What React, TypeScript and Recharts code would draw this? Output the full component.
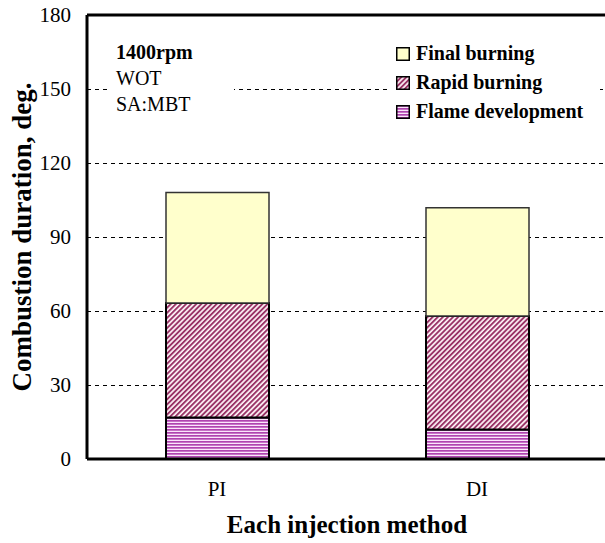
import React from 'react';
import {
  Bar,
  BarChart,
  CartesianGrid,
  Legend,
  ReferenceLine,
  XAxis,
  YAxis,
} from 'recharts';

const methods = ['PI', 'DI'];
const flameDevelopment = [16.8, 12.0];
const rapidBurning = [46.4, 46.0];
const finalBurning = [44.8, 43.9];
const yTicks = [0, 30, 60, 90, 120, 150, 180];
const conditions = ['1400rpm', 'WOT', 'SA:MBT'];

const SERIF = "'Liberation Serif', 'DejaVu Serif', 'Times New Roman', serif";

const data = methods.map((m, i) => ({
  method: m,
  flame: flameDevelopment[i],
  rapid: rapidBurning[i],
  final: finalBurning[i],
}));

const SWATCH: Record<string, string> = {
  final: '#ffffcc',
  rapid: 'url(#rapidHatch)',
  flame: 'url(#flameStripes)',
};
const LEGEND_ORDER = ['final', 'rapid', 'flame'];

function LegendBox({ payload }: { payload?: any[] }) {
  const items = [...(payload ?? [])].sort(
    (a, b) => LEGEND_ORDER.indexOf(String(a.dataKey)) - LEGEND_ORDER.indexOf(String(b.dataKey))
  );
  return (
    <div style={{ background: '#fff', padding: '3px 0 3px 8px', fontFamily: SERIF }}>
      {items.map((p) => (
        <div
          key={String(p.dataKey)}
          style={{ display: 'flex', alignItems: 'center', height: 29, fontSize: 20, fontWeight: 700 }}
        >
          <svg width={14} height={14} style={{ marginRight: 6 }}>
            <rect x={0.75} y={0.75} width={12.5} height={12.5} fill={SWATCH[p.dataKey]} stroke="#000" strokeWidth={1.5} />
          </svg>
          {p.value}
        </div>
      ))}
    </div>
  );
}

function YTitle({ viewBox }: any) {
  const cy = viewBox.y + viewBox.height / 2;
  return (
    <text
      x={22}
      y={cy}
      transform={`rotate(-90 22 ${cy})`}
      textAnchor="middle"
      dominantBaseline="central"
      fontFamily={SERIF}
      fontWeight={700}
      fontSize={27}
      fill="#000"
    >
      Combustion duration, deg.
    </text>
  );
}

function XTitle({ viewBox }: any) {
  return (
    <text
      x={viewBox.x + viewBox.width / 2}
      y={524}
      textAnchor="middle"
      dominantBaseline="central"
      fontFamily={SERIF}
      fontWeight={700}
      fontSize={25}
      fill="#000"
    >
      Each injection method
    </text>
  );
}

export default function App() {
  return (
    <div style={{ position: 'absolute', left: 0, top: 0, width: 605, height: 543, overflow: 'hidden', background: '#fff' }}>
      <BarChart
        width={607}
        height={543}
        data={data}
        margin={{ top: 15, right: 0, left: 0, bottom: 0 }}
        barSize={103}
      >
        <defs>
          <pattern id="flameStripes" width={6} height={3} patternUnits="userSpaceOnUse">
            <rect width={6} height={3} fill="#fbe6fb" />
            <rect width={6} height={1.7} fill="#b044b0" />
          </pattern>
          <pattern id="rapidHatch" width={3.6} height={3.6} patternUnits="userSpaceOnUse" patternTransform="rotate(45)">
            <rect width={3.6} height={3.6} fill="#fdf2f6" />
            <rect width={1.9} height={3.6} fill="#993366" />
          </pattern>
        </defs>
        <CartesianGrid vertical={false} stroke="#000" strokeWidth={1} strokeDasharray="4 4" shapeRendering="crispEdges" />
        <XAxis
          dataKey="method"
          height={84}
          tickLine={false}
          tickSize={0}
          tickMargin={22}
          axisLine={{ stroke: '#000', strokeWidth: 3 }}
          tick={{ fill: '#000', fontSize: 21, fontFamily: SERIF }}
          label={{ content: XTitle }}
        />
        <YAxis
          width={87}
          domain={[0, 180]}
          ticks={yTicks}
          interval={0}
          tickLine={false}
          tickSize={0}
          tickMargin={16}
          axisLine={{ stroke: '#000', strokeWidth: 3 }}
          tick={{ fill: '#000', fontSize: 21, fontFamily: SERIF }}
          label={{ content: YTitle }}
        />
        <ReferenceLine y={180} stroke="#000" strokeWidth={3} />
        <Legend
          layout="horizontal"
          verticalAlign="middle"
          align="center"
          wrapperStyle={{ position: 'absolute', top: 36, left: 388, width: 212 }}
          content={(props: any) => <LegendBox payload={props.payload} />}
        />
        <Bar dataKey="flame" name="Flame development" stackId="a" fill="url(#flameStripes)" stroke="#000" strokeWidth={2} isAnimationActive={false} />
        <Bar dataKey="rapid" name="Rapid burning" stackId="a" fill="url(#rapidHatch)" stroke="#000" strokeWidth={2} isAnimationActive={false} />
        <Bar dataKey="final" name="Final burning" stackId="a" fill="#ffffcc" stroke="#333" strokeWidth={1.5} isAnimationActive={false} />
      </BarChart>
      <div
        style={{
          position: 'absolute',
          left: 108,
          top: 39,
          width: 118,
          padding: '0 0 0 8px',
          background: '#fff',
          fontFamily: SERIF,
          fontSize: 20,
          lineHeight: '26px',
          color: '#000',
        }}
      >
        {conditions.map((c, i) => (
          <div key={c} style={{ fontWeight: i === 0 ? 700 : 400 }}>
            {c}
          </div>
        ))}
      </div>
    </div>
  );
}
